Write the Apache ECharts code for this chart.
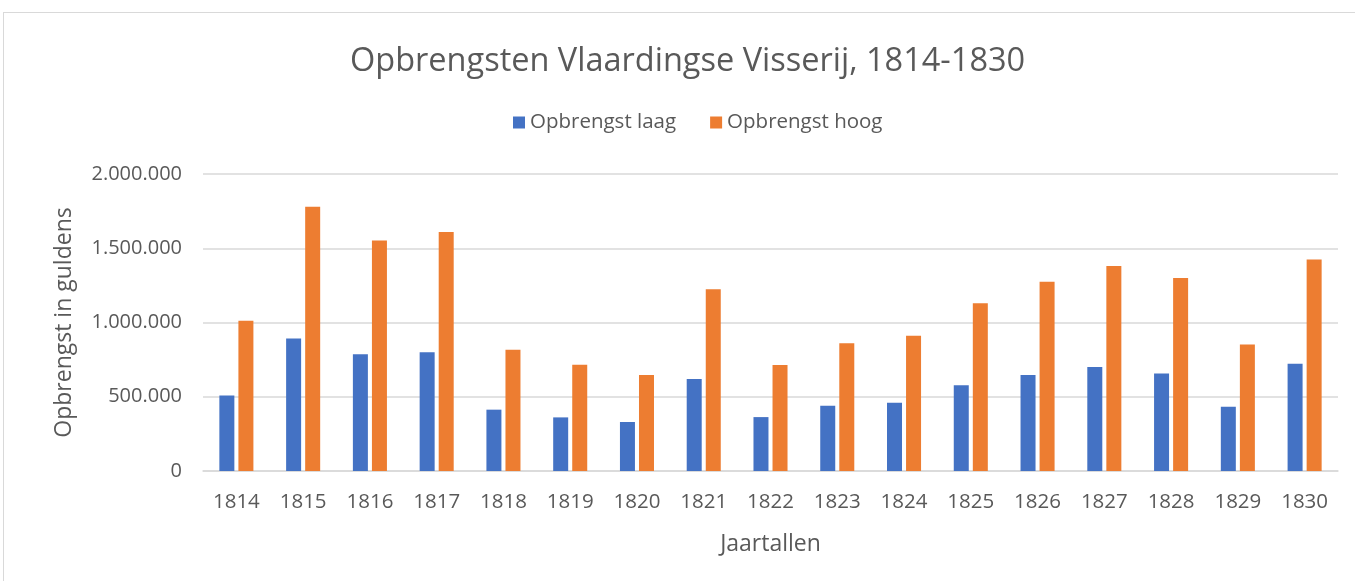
<!DOCTYPE html>
<html>
<head>
<meta charset="utf-8">
<script src="https://cdn.jsdelivr.net/npm/echarts@6/dist/echarts.min.js"></script>
<style>
  html, body { margin: 0; padding: 0; background: #fff; }
  .wrap { position: absolute; left: 3px; top: 12px; width: 1360px; height: 580px; border: 1px solid #d9d9d9; box-sizing: border-box; }
  #chart { position: absolute; left: -3px; top: -12px; width: 1355px; height: 581px; }
</style>
</head>
<body>
<div class="wrap"><div id="chart"></div></div>
<script>
  // jaartallen en opbrengsten (in guldens)
  const jaren = ['1814','1815','1816','1817','1818','1819','1820','1821','1822','1823','1824','1825','1826','1827','1828','1829','1830'];
  const opbrengstLaag = [509000, 892000, 787000, 800000, 413000, 361000, 330000, 619000, 363000, 439000, 460000, 578000, 646000, 700000, 657000, 433000, 722000];
  const opbrengstHoog = [1011000, 1780000, 1552000, 1610000, 816000, 715000, 646000, 1224000, 713000, 861000, 910000, 1130000, 1274000, 1381000, 1300000, 852000, 1424000];
  const yTicks = [0, 500000, 1000000, 1500000, 2000000];

  const font = '"Open Sans", sans-serif';
  const fmt = v => v === 0 ? '0' : String(v).replace(/\B(?=(\d{3})+(?!\d))/g, '.');

  const chart = echarts.init(document.getElementById('chart'));
  chart.setOption({
    animation: false,
    color: ['#4472C4', '#ED7D31'],
    textStyle: { fontFamily: font },
    title: {
      text: 'Opbrengsten Vlaardingse Visserij, 1814-1830',
      left: 344,
      top: 39,
      textStyle: { fontSize: 32.5, fontWeight: 'normal', color: '#595959', fontFamily: font }
    },
    legend: {
      top: 106,
      left: 507,
      itemWidth: 12,
      itemHeight: 12,
      itemGap: 34,
      icon: 'rect',
      textStyle: { fontSize: 20.5, color: '#595959', fontFamily: font }
    },
    grid: { left: 202, right: 18, top: 173, bottom: 111, containLabel: false },
    xAxis: {
      type: 'category',
      data: jaren,
      name: 'Jaartallen',
      nameLocation: 'middle',
      nameGap: 62,
      nameTextStyle: { fontSize: 23, color: '#595959' },
      axisLine: { lineStyle: { color: '#d9d9d9', width: 1.5 } },
      axisTick: { show: false },
      axisLabel: { fontSize: 20.5, color: '#595959', margin: 21 }
    },
    yAxis: {
      type: 'value',
      min: yTicks[0],
      max: yTicks[yTicks.length - 1],
      interval: 500000,
      name: 'Opbrengst in guldens',
      nameLocation: 'middle',
      nameGap: 127,
      nameTextStyle: { fontSize: 23, color: '#595959' },
      axisLine: { show: false },
      axisTick: { show: false },
      splitLine: { lineStyle: { color: '#d9d9d9', width: 1.5 } },
      axisLabel: { fontSize: 20, color: '#595959', margin: 21, formatter: fmt }
    },
    series: [
      { name: 'Opbrengst laag', type: 'bar', data: opbrengstLaag, barWidth: 15, barGap: '27%' },
      { name: 'Opbrengst hoog', type: 'bar', data: opbrengstHoog, barWidth: 15 }
    ]
  });
  window.addEventListener('resize', function () { chart.resize(); });
</script>
</body>
</html>
